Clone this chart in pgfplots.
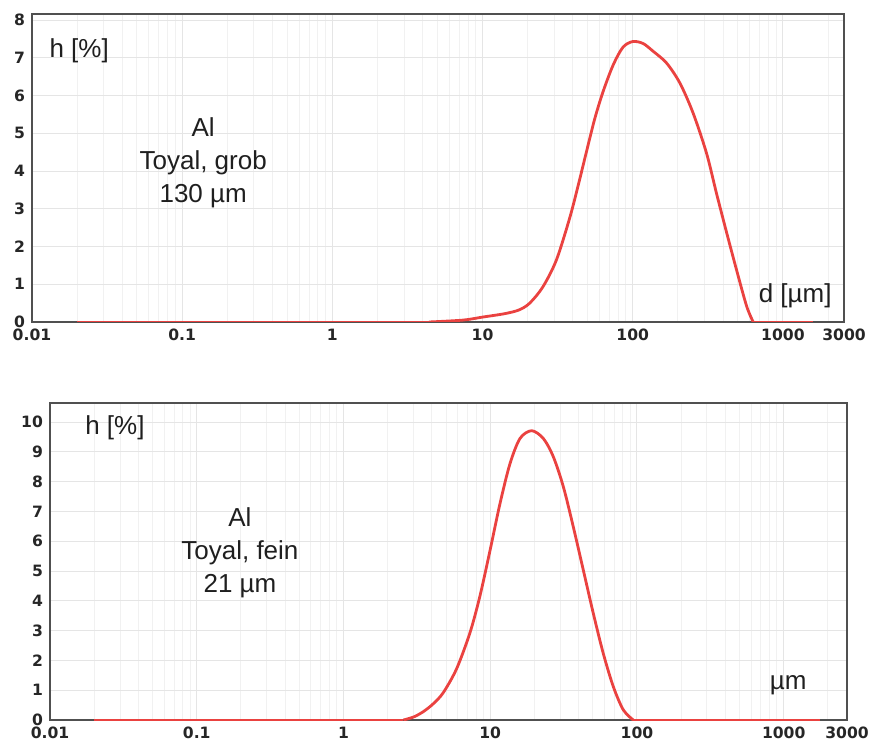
\documentclass[border=0pt]{standalone}
\usepackage{fontspec}
\setmainfont{Liberation Sans}
\newfontfamily\tickfont{DejaVu Sans}
\usepackage{pgfplots}
\pgfplotsset{compat=1.18}

\definecolor{curve}{RGB}{234,66,64}
\definecolor{frame}{RGB}{80,80,80}

\tikzset{note/.style={font=\fontsize{13}{16.5}\selectfont, text=black!88, align=center, inner sep=0pt}}

\begin{document}
\begin{tikzpicture}
\path[use as bounding box] (-16pt,161pt) rectangle (420pt,-213.5pt);

% top panel: coarse powder (right edge of the original scale is labelled 3000)
\begin{axis}[xmode=log, scale only axis, width=406pt, height=154pt,
  xmin=0.01, xmax=2550, ymin=0, ymax=8.16,
  xtick={0.01,0.1,1,10,100,1000,2550},
  xticklabels={0.01,0.1,1,10,100,1000,3000},
  minor xtick={0.02,0.03,0.04,0.05,0.06,0.07,0.08,0.09,0.2,0.3,0.4,0.5,0.6,0.7,0.8,0.9,
               2,3,4,5,6,7,8,9,20,30,40,50,60,70,80,90,200,300,400,500,600,700,800,900,2000},
  ytick={0,1,2,3,4,5,6,7,8},
  yticklabels={0,1,2,3,4,5,6,7,8},
  major tick length=0pt, minor tick length=0pt,
  xmajorgrids, xminorgrids, ymajorgrids,
  major grid style={gray!20,line width=0.5pt},
  minor grid style={gray!11,line width=0.5pt},
  axis line style={frame,line width=0.8pt},
  tick label style={font=\tickfont\bfseries\fontsize{7.8}{8}\selectfont, text=black!85},
]
\addplot[curve, line width=1.4pt] coordinates {(0.02,0) (4.4,0)};
\addplot[curve, line width=1.4pt, smooth] coordinates {
  (4.4,0) (7.4,0.05) (10,0.13) (14,0.22) (17.5,0.32) (20.6,0.5) (25.2,0.93) (31,1.64)
  (38,2.75) (43.2,3.6) (49.1,4.5) (55.8,5.38) (63.4,6.1) (73.9,6.8)
  (86.1,7.28) (100,7.43) (117,7.38) (136,7.18) (168,6.86) (206,6.33)
  (252,5.54) (310,4.47) (361,3.41) (421,2.38) (491,1.38) (573,0.42) (634,0)
};
\addplot[curve, line width=1.4pt] coordinates {(634,0) (1585,0)};
\node[note, anchor=west] at (axis cs:0.013,7.18) {h [\%]};
\node[note] at (axis cs:0.138,4.21) {Al\\Toyal, grob\\130 µm};
\node[note, anchor=east] at (axis cs:2120,0.69) {d [µm]};
\end{axis}

% bottom panel: fine powder
\begin{axis}[xmode=log, scale only axis, at={(9pt,-199pt)}, width=398.5pt, height=158.5pt,
  xmin=0.01, xmax=2700, ymin=0, ymax=10.64,
  xtick={0.01,0.1,1,10,100,1000,2700},
  xticklabels={0.01,0.1,1,10,100,1000,3000},
  minor xtick={0.02,0.03,0.04,0.05,0.06,0.07,0.08,0.09,0.2,0.3,0.4,0.5,0.6,0.7,0.8,0.9,
               2,3,4,5,6,7,8,9,20,30,40,50,60,70,80,90,200,300,400,500,600,700,800,900,2000},
  ytick={0,1,2,3,4,5,6,7,8,9,10},
  yticklabels={0,1,2,3,4,5,6,7,8,9,10},
  major tick length=0pt, minor tick length=0pt,
  xmajorgrids, xminorgrids, ymajorgrids,
  major grid style={gray!20,line width=0.5pt},
  minor grid style={gray!11,line width=0.5pt},
  axis line style={frame,line width=0.8pt},
  tick label style={font=\tickfont\bfseries\fontsize{7.8}{8}\selectfont, text=black!85},
]
\addplot[curve, line width=1.4pt] coordinates {(0.02,0) (2.56,0)};
\addplot[curve, line width=1.4pt, smooth] coordinates {
  (2.56,0) (3.0,0.1) (3.5,0.28) (4.1,0.55) (4.79,0.92) (5.9,1.72) (7.28,2.93) (8.51,4.16)
  (9.96,5.68) (11.64,7.25) (13.63,8.6) (15.96,9.45) (19.16,9.71)
  (23.0,9.45) (26.9,8.84) (31.5,7.83) (36.8,6.49) (43.1,5.03) (50.4,3.58)
  (58.9,2.24) (69.0,1.12) (80.7,0.34) (94.4,0)
};
\addplot[curve, line width=1.4pt] coordinates {(94.4,0) (1766,0)};
\node[note, anchor=west] at (axis cs:0.0173,9.8) {h [\%]};
\node[note] at (axis cs:0.197,5.6) {Al\\Toyal, fein\\21 µm};
\node[note, anchor=east] at (axis cs:1440,1.17) {µm};
\end{axis}
\end{tikzpicture}
\end{document}
